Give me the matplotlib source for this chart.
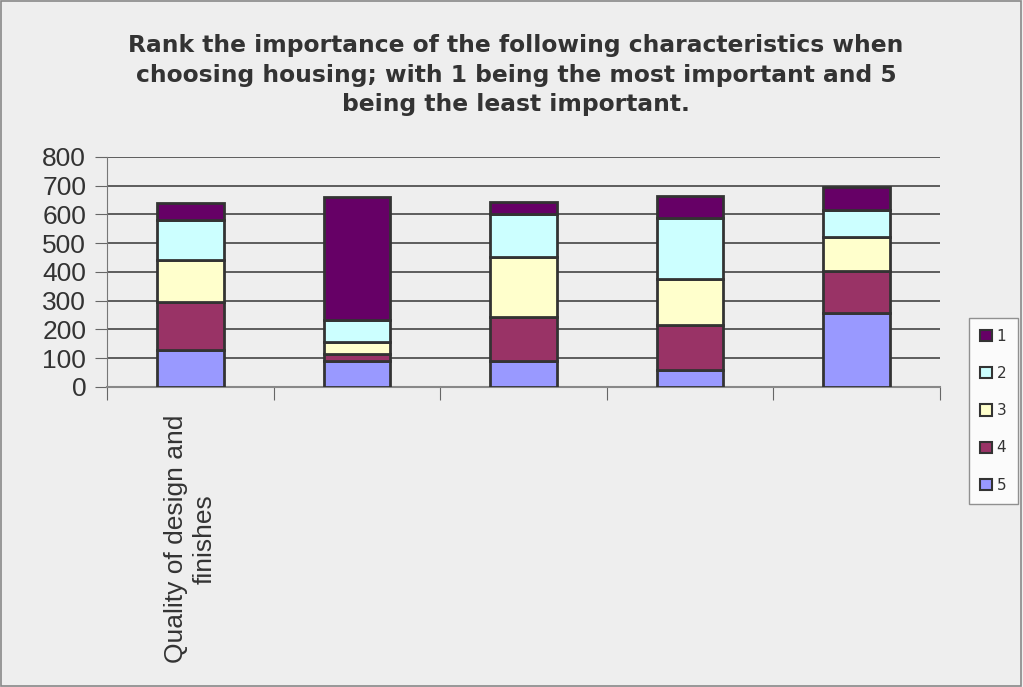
import numpy as np
import matplotlib.pyplot as plt
from matplotlib.patches import Rectangle, Patch

# data
categories = ["Quality of design and\nfinishes", "", "", "", ""]
ranks = ["1", "2", "3", "4", "5"]
rank1 = [59, 426, 40, 74, 81]
rank2 = [139, 76, 151, 214, 95]
rank3 = [147, 43, 207, 160, 116]
rank4 = [169, 26, 156, 157, 147]
rank5 = [127, 89, 89, 58, 257]

colors = {"1": "#660066", "2": "#CCFFFF", "3": "#FFFFCC", "4": "#993366", "5": "#9999FF"}
bg = "#EEEEEE"
edge = "#333333"
txt = "#333333"

fig = plt.figure(figsize=(10.23, 6.87), dpi=100, facecolor=bg)
ax = fig.add_axes([0.1046, 0.4367, 0.8143, 0.3348])
ax.set_facecolor(bg)

x = np.arange(len(categories))
series = {"5": rank5, "4": rank4, "3": rank3, "2": rank2, "1": rank1}
bottom = np.zeros(len(categories))
for name in ["5", "4", "3", "2", "1"]:
    vals = np.array(series[name])
    ax.bar(x, vals, width=0.4, bottom=bottom, color=colors[name],
           edgecolor=edge, linewidth=2, zorder=3)
    bottom += vals

ax.set_xlim(-0.5, len(categories) - 0.5)
ax.set_ylim(0, 800)
ax.set_yticks(np.arange(0, 801, 100))
ax.yaxis.grid(True, color="#444444", linewidth=1.2, zorder=0)
ax.tick_params(axis="y", labelsize=19, length=9, direction="out", colors="#666666",
               labelcolor=txt, pad=6)
for lab in ax.get_yticklabels():
    lab.set_fontfamily("Liberation Sans")

# category boundaries get the tick marks, labels sit at the bar centres
ax.set_xticks(np.arange(-0.5, len(categories)), minor=False)
ax.set_xticklabels([])
ax.tick_params(axis="x", length=9, direction="out", colors="#666666")
ax.set_xticks(x, minor=True)
ax.set_xticklabels(categories, minor=True, rotation=90, fontsize=19,
                   family="Liberation Sans", va="top", ha="center",
                   multialignment="center", color=txt)
ax.tick_params(axis="x", which="minor", length=0, pad=20)

for s in ["top", "right"]:
    ax.spines[s].set_visible(False)
ax.spines["left"].set_color("#777777")
ax.spines["bottom"].set_color("#888888")
ax.spines["bottom"].set_linewidth(1.5)

fig.text(0.5044, 0.951,
         "Rank the importance of the following characteristics when\n"
         "choosing housing; with 1 being the most important and 5\n"
         "being the least important.",
         ha="center", va="top", fontsize=16.8, fontweight="bold",
         family="DejaVu Sans", linespacing=1.38, color=txt)

handles = [Patch(facecolor=colors[r], edgecolor=edge, linewidth=1.5) for r in ranks]
leg = fig.legend(handles, ranks, loc="center", bbox_to_anchor=(0.971, 0.402),
                 frameon=True, fontsize=11, handlelength=0.75, handleheight=0.75,
                 handletextpad=0.3, labelspacing=1.45, borderpad=0.75,
                 fancybox=False, facecolor="white")
leg.get_frame().set_edgecolor("#777777")
for t in leg.get_texts():
    t.set_color(txt)

fig.patches.append(Rectangle((0.001, 0.001), 0.997, 0.997, transform=fig.transFigure,
                             fill=False, edgecolor="#888888", linewidth=1.2))

fig.savefig("out.png", dpi=100, facecolor=bg)
